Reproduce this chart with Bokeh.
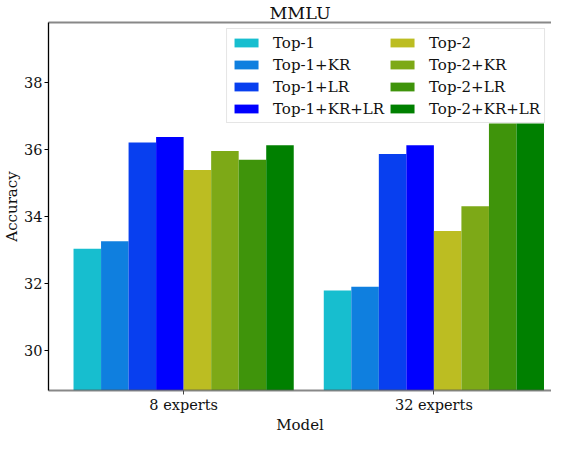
from bokeh.plotting import figure
from bokeh.models import ColumnDataSource, Legend, LegendItem, Range1d, FixedTicker, LinearAxis
from bokeh.embed import file_html
from bokeh.resources import INLINE

groups = ["8 experts", "32 experts"]
series = ["Top-1", "Top-1+KR", "Top-1+LR", "Top-1+KR+LR",
          "Top-2", "Top-2+KR", "Top-2+LR", "Top-2+KR+LR"]
values = {
    "Top-1":        [33.04, 31.79],
    "Top-1+KR":     [33.26, 31.90],
    "Top-1+LR":     [36.21, 35.87],
    "Top-1+KR+LR":  [36.38, 36.13],
    "Top-2":        [35.39, 33.57],
    "Top-2+KR":     [35.96, 34.31],
    "Top-2+LR":     [35.70, 36.78],
    "Top-2+KR+LR":  [36.13, 36.78],
}
colors = ["#17becf", "#0f7fdf", "#083fef", "#0000ff",
          "#bcbd22", "#7da917", "#3f940b", "#008000"]
yticks = [30, 32, 34, 36, 38]

FONT = "DejaVu Serif"
bar_w = 0.11
base = 28.8

p = figure(width=551, height=436, output_backend="svg", toolbar_location=None,
           x_range=Range1d(-0.54, 1.47), y_range=Range1d(base, 39.8),
           title="MMLU", min_border_left=10, min_border_right=0,
           min_border_top=0, min_border_bottom=0)

items = []
for i, (name, col) in enumerate(zip(series, colors)):
    off = (i - 3.5) * bar_w
    src = ColumnDataSource(dict(x=[k + off for k in range(len(groups))],
                                top=values[name], bottom=[base] * len(groups)))
    r = p.vbar(x="x", top="top", bottom="bottom", width=bar_w, source=src,
               fill_color=col, line_color=None)
    items.append(LegendItem(label=name, renderers=[r]))

legend = Legend(items=items, location="top_right", ncols=2, nrows=4,
                label_text_font=FONT, label_text_font_size="15px",
                label_text_color="#111111",
                glyph_width=30, glyph_height=11, label_height=19, spacing=3,
                label_standoff=12, padding=4, margin=6,
                border_line_color="#cccccc", border_line_width=1,
                background_fill_alpha=0.8)
p.add_layout(legend, "center")

p.title.text_font = FONT
p.title.text_font_size = "17.5px"
p.title.text_font_style = "normal"
p.title.align = "center"
p.title.text_color = "#111111"
p.title.standoff = 0
p.title.offset = 0

p.xgrid.grid_line_color = None
p.ygrid.grid_line_color = None
p.outline_line_color = None

p.xaxis.ticker = FixedTicker(ticks=list(range(len(groups))))
p.xaxis.major_label_overrides = {i: g for i, g in enumerate(groups)}
p.xaxis.axis_label = "Model"
p.yaxis.ticker = FixedTicker(ticks=yticks)
p.yaxis.axis_label = "Accuracy"

for ax in (p.xaxis[0], p.yaxis[0]):
    ax.axis_label_text_font = FONT
    ax.axis_label_text_font_size = "15px"
    ax.axis_label_text_font_style = "normal"
    ax.axis_label_text_color = "#111111"
    ax.major_label_text_font = FONT
    ax.major_label_text_font_size = "14.5px"
    ax.major_label_text_color = "#111111"
    ax.minor_tick_line_color = None
    ax.major_tick_out = 4
    ax.major_tick_in = 0
    ax.axis_label_standoff = 0
    ax.major_label_standoff = 2

p.yaxis.axis_line_color = "black"
p.yaxis.axis_line_width = 1.3
p.xaxis.axis_line_color = "#555555"
p.xaxis.axis_line_alpha = 0.7
p.xaxis.axis_line_width = 2
p.xaxis.major_tick_line_color = "#444444"

top_ax = LinearAxis(ticker=FixedTicker(ticks=[]), major_label_text_font_size="0px",
                    major_tick_line_color=None, minor_tick_line_color=None,
                    major_tick_out=0, major_label_standoff=0,
                    axis_line_color="#555555", axis_line_alpha=0.7, axis_line_width=2)
p.add_layout(top_ax, "above")

open("out.html", "w").write(file_html(p, INLINE))
